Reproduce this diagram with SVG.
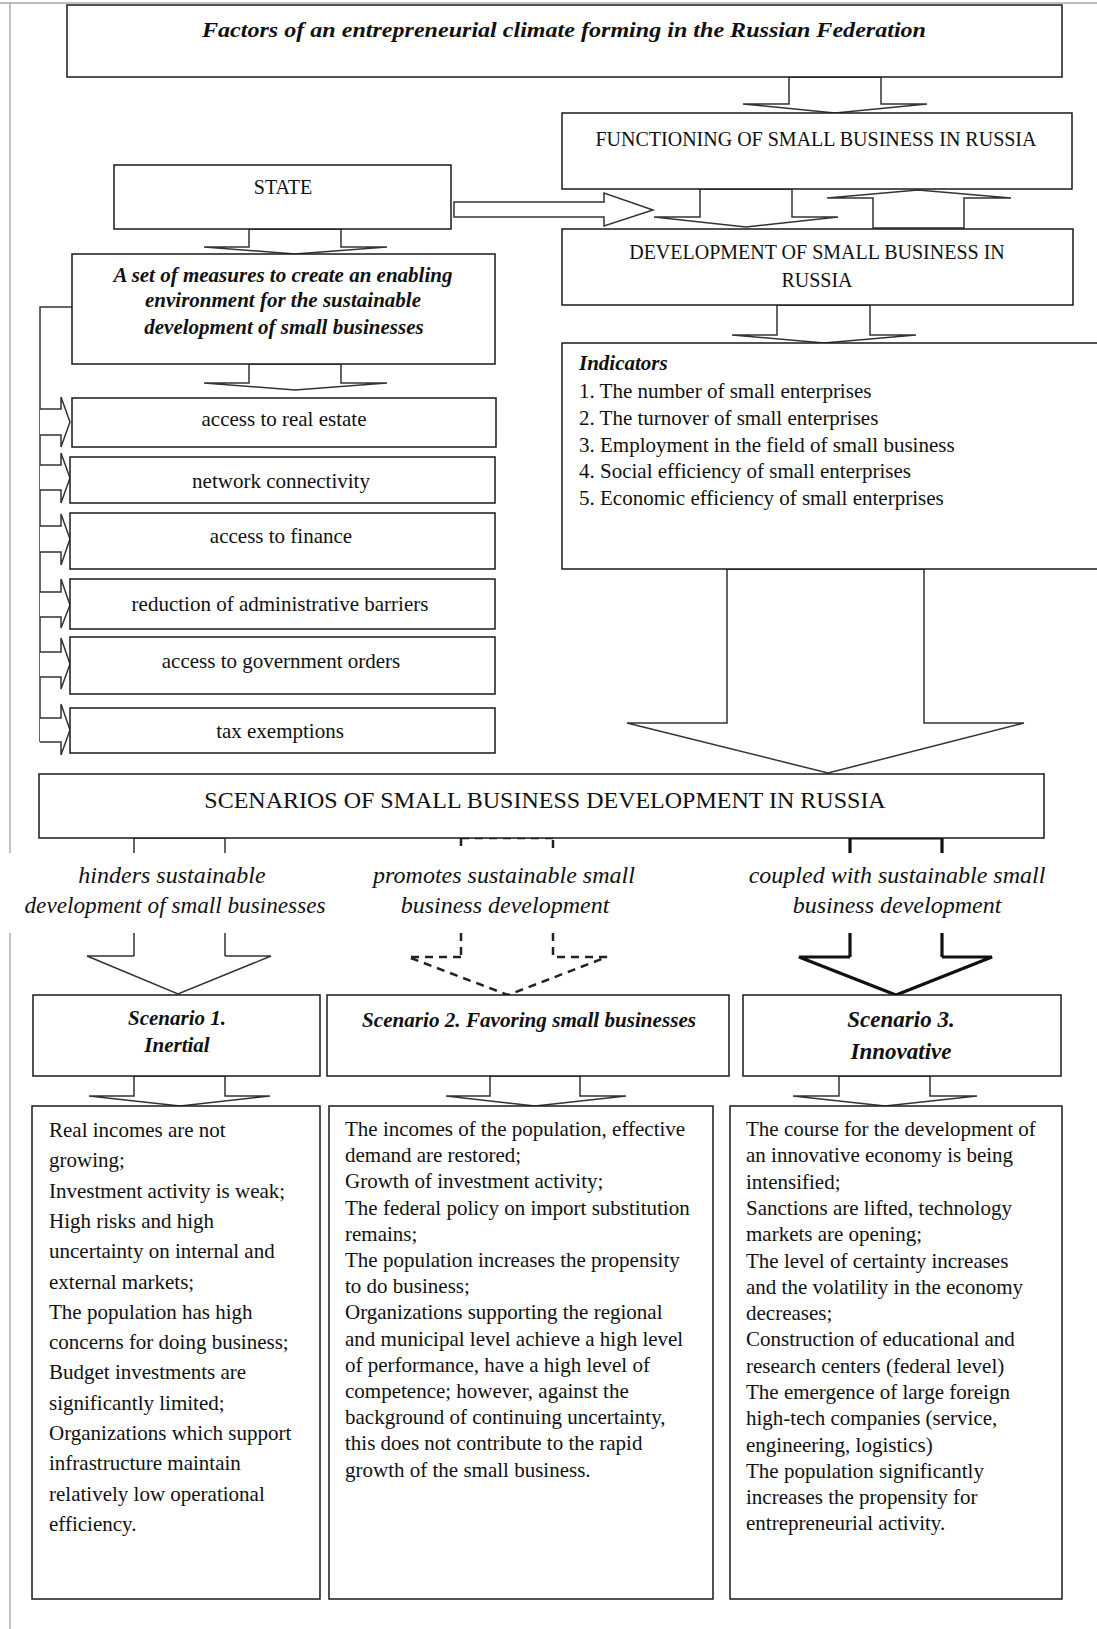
<svg xmlns="http://www.w3.org/2000/svg" width="1097" height="1629" viewBox="0 0 1097 1629">
<style>
.bg{fill:#fff}
.box{fill:#fff;stroke:#1a1a1a;stroke-width:1.5}
.arr{fill:#fff;stroke:#333;stroke-width:1.5;stroke-linejoin:miter}
.ln{fill:none;stroke:#333;stroke-width:1.5}
.dash{fill:none;stroke:#222;stroke-width:2.5;stroke-dasharray:8,6}
.thick{fill:none;stroke:#111;stroke-width:3.2}
.border{fill:none;stroke:#aaa;stroke-width:1.5}
text{font-family:"Liberation Serif","Times New Roman",serif;fill:#111}
.t{font-size:21px}
.c{text-anchor:middle}
.cap{font-size:20px}
.bi{font-weight:bold;font-style:italic}
.it{font-style:italic;font-size:24px}
</style>
<rect class="bg" x="0" y="0" width="1097" height="1629"/>
<g id="page-border">
<path class="border" d="M0,3 H1097 M10,3 V853 M10,933 V1629"/>
</g>

<g id="connectors">
<!-- title -> functioning -->
<polygon class="arr" points="789,77 789,104 743,104 835,113 927,104 881,104 881,77"/>
<!-- functioning -> development -->
<polygon class="arr" points="700,189 700,217 654,217 746,227 838,217 792,217 792,189"/>
<!-- development -> functioning (up) -->
<polygon class="arr" points="873,228 873,198 827,198 918,190 1011,198 964,198 964,228"/>
<!-- state -> right -->
<polygon class="arr" points="454,202 604,202 604,193 653,210 604,226 604,217 454,217"/>
<!-- state -> set of measures -->
<polygon class="arr" points="249,229 249,247 204,247 295,254 387,247 341,247 341,229"/>
<!-- set -> access -->
<polygon class="arr" points="249,364 249,383 204,383 295,390 387,383 341,383 341,364"/>
<!-- development -> indicators -->
<polygon class="arr" points="777,305 777,335 732,335 824,343 916,335 870,335 870,305"/>
<!-- indicators -> scenarios -->
<polygon class="arr" points="727,569 727,723 627,723 828,773 1024,723 924,723 924,569"/>
<!-- left bracket -->
<path class="ln" d="M72,307 H40 V742"/>
<polyline class="arr" points="40,409 61,409 61,397 70,422 61,447 61,435 40,435"/>
<polyline class="arr" points="40,465 61,465 61,453 70,478 61,503 61,490 40,490"/>
<polyline class="arr" points="40,526 61,526 61,514 70,539 61,565 61,552 40,552"/>
<polyline class="arr" points="40,592 61,592 61,579 70,605 61,628 61,617 40,617"/>
<polyline class="arr" points="40,652 61,652 61,638 70,664 61,689 61,677 40,677"/>
<polyline class="arr" points="40,718 61,718 61,704 70,730 61,755 61,742 40,742"/>
<!-- scenario 1 arrow (thin solid) -->
<path class="ln" d="M134,838 H225 M134,838 V853 M225,838 V853 M134,933 V956 M225,933 V956"/>
<polyline class="arr" points="134,956 87,956 178,994 271,956 225,956"/>
<!-- scenario 2 arrow (dashed) -->
<path class="dash" d="M461,838 H553"/>
<path class="dash" d="M461,838 V850 M461,933 V957"/>
<path class="dash" stroke-dasharray="3,9" d="M553,840 V853 M553,933 V957"/>
<path class="dash" d="M461,957 H408 L508,995 L607,957 H553"/>
<!-- scenario 3 arrow (thick) -->
<path class="thick" d="M850,838 H942 M850,838 V853 M942,838 V853 M850,933 V957 M942,933 V957"/>
<path class="thick" d="M850,957 H799 L896,995 L992,957 H942"/>
<!-- scenario -> description arrows -->
<polygon class="arr" points="134,1076 134,1096 89,1096 180,1106 270,1096 225,1096 225,1076"/>
<polygon class="arr" points="490,1076 490,1096 446,1096 535,1106 626,1096 580,1096 580,1076"/>
<polygon class="arr" points="839,1076 839,1096 793,1096 885,1106 977,1096 930,1096 930,1076"/>
</g>

<g id="title">
<rect class="box" x="67" y="5" width="995" height="72"/>
<text class="c bi" x="564" y="37" font-size="22" textLength="724" lengthAdjust="spacingAndGlyphs">Factors of an entrepreneurial climate forming in the Russian Federation</text>
</g>
<g id="functioning">
<rect class="box" x="562" y="113" width="510" height="76"/>
<text class="c cap" x="816" y="146">FUNCTIONING  OF SMALL BUSINESS  IN RUSSIA</text>
</g>
<g id="state">
<rect class="box" x="114" y="165" width="337" height="64"/>
<text class="c cap" x="283" y="194">STATE</text>
</g>
<g id="development">
<rect class="box" x="562" y="229" width="511" height="76"/>
<text class="c cap" x="817" y="259">DEVELOPMENT  OF SMALL BUSINESS  IN</text>
<text class="c cap" x="817" y="287">RUSSIA</text>
</g>
<g id="measures">
<rect class="box" x="72" y="254" width="423" height="110"/>
<text class="c t bi" x="283" y="282">A set of measures to create an enabling</text>
<text class="c t bi" x="283" y="307">environment for the sustainable</text>
<text class="c t bi" x="284" y="334">development of small businesses</text>
</g>
<g id="indicators">
<rect class="box" x="562" y="343" width="540" height="226"/>
<text class="t bi" x="579" y="370">Indicators</text>
<text class="t" x="579" y="398">1. The number of small enterprises</text>
<text class="t" x="579" y="425">2. The turnover of small enterprises</text>
<text class="t" x="579" y="452">3. Employment in the field of small business</text>
<text class="t" x="579" y="478">4. Social efficiency of small enterprises</text>
<text class="t" x="579" y="505">5. Economic efficiency of small enterprises</text>
</g>
<g id="real-estate">
<rect class="box" x="72" y="398" width="424" height="49"/>
<text class="c t" x="284" y="426">access to real estate</text>
</g>
<g id="network">
<rect class="box" x="70" y="457" width="425" height="46"/>
<text class="c t" x="281" y="488">network connectivity</text>
</g>
<g id="finance">
<rect class="box" x="70" y="513" width="425" height="56"/>
<text class="c t" x="281" y="543">access to finance</text>
</g>
<g id="barriers">
<rect class="box" x="70" y="579" width="425" height="50"/>
<text class="c t" x="280" y="611">reduction of administrative barriers</text>
</g>
<g id="orders">
<rect class="box" x="70" y="637" width="425" height="57"/>
<text class="c t" x="281" y="668">access to government orders</text>
</g>
<g id="tax">
<rect class="box" x="70" y="708" width="425" height="45"/>
<text class="c t" x="280" y="738">tax exemptions</text>
</g>
<g id="scenarios">
<rect class="box" x="39" y="774" width="1005" height="64"/>
<text class="c" x="545" y="808" font-size="24">SCENARIOS OF SMALL BUSINESS DEVELOPMENT IN RUSSIA</text>
</g>
<g id="labels">
<text class="c it" x="172" y="883">hinders sustainable</text>
<text class="c it" x="175" y="913" textLength="301" lengthAdjust="spacingAndGlyphs">development of small businesses</text>
<text class="c it" x="504" y="883">promotes sustainable small</text>
<text class="c it" x="505" y="913">business development</text>
<text class="c it" x="897" y="883">coupled with sustainable small</text>
<text class="c it" x="897" y="913">business development</text>
</g>
<g id="scenario1">
<rect class="box" x="33" y="995" width="287" height="81"/>
<text class="c t bi" x="177" y="1025">Scenario 1.</text>
<text class="c t bi" x="177" y="1052">Inertial</text>
</g>
<g id="scenario2">
<rect class="box" x="327" y="995" width="402" height="81"/>
<text class="c t bi" x="529" y="1027" textLength="334" lengthAdjust="spacingAndGlyphs">Scenario 2. Favoring small businesses</text>
</g>
<g id="scenario3">
<rect class="box" x="743" y="995" width="318" height="81"/>
<text class="c bi" x="901" y="1027" font-size="23">Scenario 3.</text>
<text class="c bi" x="901" y="1059" font-size="23">Innovative</text>
</g>
<g id="desc1">
<rect class="box" x="32" y="1106" width="288" height="493"/>
<text class="t" x="49" y="1137">Real incomes are not</text>
<text class="t" x="49" y="1167">growing;</text>
<text class="t" x="49" y="1198">Investment activity is weak;</text>
<text class="t" x="49" y="1228">High risks and high</text>
<text class="t" x="49" y="1258">uncertainty on internal and</text>
<text class="t" x="49" y="1289">external markets;</text>
<text class="t" x="49" y="1319">The population has high</text>
<text class="t" x="49" y="1349">concerns for doing business;</text>
<text class="t" x="49" y="1379">Budget investments are</text>
<text class="t" x="49" y="1410">significantly limited;</text>
<text class="t" x="49" y="1440">Organizations which support</text>
<text class="t" x="49" y="1470">infrastructure maintain</text>
<text class="t" x="49" y="1501">relatively low operational</text>
<text class="t" x="49" y="1531">efficiency.</text>
</g>
<g id="desc2">
<rect class="box" x="329" y="1106" width="384" height="493"/>
<text class="t" x="345" y="1136">The incomes of the population, effective</text>
<text class="t" x="345" y="1162">demand are restored;</text>
<text class="t" x="345" y="1188">Growth of investment activity;</text>
<text class="t" x="345" y="1215">The federal policy on import substitution</text>
<text class="t" x="345" y="1241">remains;</text>
<text class="t" x="345" y="1267">The population increases the propensity</text>
<text class="t" x="345" y="1293">to do business;</text>
<text class="t" x="345" y="1319">Organizations supporting the regional</text>
<text class="t" x="345" y="1346">and municipal level achieve a high level</text>
<text class="t" x="345" y="1372">of performance, have a high level of</text>
<text class="t" x="345" y="1398">competence; however, against the</text>
<text class="t" x="345" y="1424">background of continuing uncertainty,</text>
<text class="t" x="345" y="1450">this does not contribute to the rapid</text>
<text class="t" x="345" y="1477">growth of the small business.</text>
</g>
<g id="desc3">
<rect class="box" x="730" y="1106" width="332" height="493"/>
<text class="t" x="746" y="1136">The course for the development of</text>
<text class="t" x="746" y="1162">an innovative economy is being</text>
<text class="t" x="746" y="1189">intensified;</text>
<text class="t" x="746" y="1215">Sanctions are lifted, technology</text>
<text class="t" x="746" y="1241">markets are opening;</text>
<text class="t" x="746" y="1268">The level of certainty increases</text>
<text class="t" x="746" y="1294">and the volatility in the economy</text>
<text class="t" x="746" y="1320">decreases;</text>
<text class="t" x="746" y="1346">Construction of educational and</text>
<text class="t" x="746" y="1373">research centers (federal level)</text>
<text class="t" x="746" y="1399">The emergence of large foreign</text>
<text class="t" x="746" y="1425">high-tech companies (service,</text>
<text class="t" x="746" y="1452">engineering, logistics)</text>
<text class="t" x="746" y="1478">The population significantly</text>
<text class="t" x="746" y="1504">increases the propensity for</text>
<text class="t" x="746" y="1530">entrepreneurial activity.</text>
</g>
</svg>
